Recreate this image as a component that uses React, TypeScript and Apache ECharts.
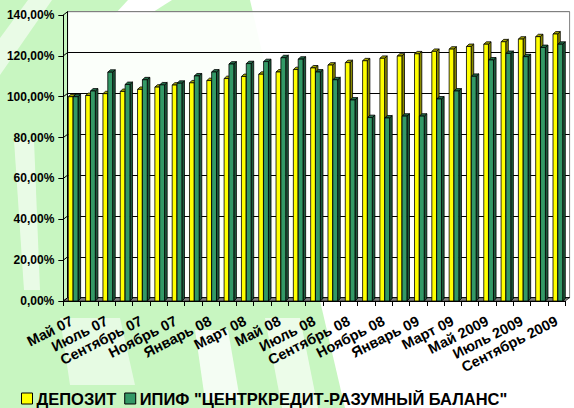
import React, { useEffect, useRef } from "react";
import * as echarts from "echarts";

const categories = [
  "Май 07", "Июнь 07", "Июль 07", "Август 07", "Сентябрь 07", "Октябрь 07",
  "Ноябрь 07", "Декабрь 07", "Январь 08", "Февраль 08", "Март 08", "Апрель 08",
  "Май 08", "Июнь 08", "Июль 08", "Август 08", "Сентябрь 08", "Октябрь 08",
  "Ноябрь 08", "Декабрь 08", "Январь 09", "Февраль 09", "Март 09", "Апрель 09",
  "Май 2009", "Июнь 2009", "Июль 2009", "Август 2009", "Сентябрь 2009",
];

const deposit = [
  100.0, 100.6, 101.5, 102.6, 103.6, 104.7, 105.7, 106.8, 107.9, 108.9,
  109.9, 111.0, 112.1, 113.3, 114.1, 115.5, 116.7, 117.6, 118.8, 119.9,
  121.0, 122.2, 123.3, 124.6, 125.7, 126.9, 128.2, 129.4, 130.7,
];

const ipif = [
  100.0, 102.8, 112.0, 106.0, 108.3, 105.8, 106.6, 110.2, 112.1, 116.0,
  116.2, 117.2, 119.1, 118.4, 112.1, 108.3, 98.4, 89.8, 89.6, 90.5,
  90.5, 98.9, 102.8, 110.0, 118.0, 121.2, 119.6, 124.1, 125.7,
];

const yTicks = [0, 20, 40, 60, 80, 100, 120, 140];

const seriesNames = ["ДЕПОЗИТ", 'ИПИФ "ЦЕНТРКРЕДИТ-РАЗУМНЫЙ БАЛАНС"'];

const FONT = "Arial, 'Liberation Sans', sans-serif";
const DX = 4.3; // depth offset of back wall
const DY = 3.3;
const BDX = 2.6; // bar depth
const BDY = 2.4;

function barRenderer(offsetFrac: number, widthFrac: number, front: string, side: string, top: string) {
  return (params: any, api: any) => {
    const idx = api.value(0);
    const val = api.value(1);
    const base = api.coord([idx, 0]);
    const tp = api.coord([idx, val]);
    const band = api.size([1, 0])[0];
    const l = base[0] - band / 2 + offsetFrac * band;
    const w = widthFrac * band;
    const b = base[1];
    const t = tp[1];
    const stroke = { stroke: "#000", lineWidth: 0.8 };
    return {
      type: "group",
      children: [
        {
          type: "polygon",
          shape: { points: [[l + w, t], [l + w + BDX, t - BDY], [l + w + BDX, b - BDY], [l + w, b]] },
          style: { fill: side, ...stroke },
        },
        {
          type: "polygon",
          shape: { points: [[l, t], [l + w, t], [l + w + BDX, t - BDY], [l + BDX, t - BDY]] },
          style: { fill: top, ...stroke },
        },
        {
          type: "rect",
          shape: { x: l, y: t, width: w, height: b - t },
          style: { fill: front, ...stroke },
        },
      ],
    };
  };
}

export default function App() {
  const ref = useRef<HTMLDivElement>(null);
  useEffect(() => {
    if (!ref.current) return;
    const chart = echarts.init(ref.current, null, { renderer: "svg" });
    const G = "#c8f6c1";
    const option: any = {
      animation: false,
      backgroundColor: "#ffffff",
      graphic: [
        { type: "polygon", z: -20, shape: { points: [[0, 0], [250, 0], [345, 408], [0, 408]] }, style: { fill: G } },
        { type: "polygon", z: -19, shape: { points: [[0, 38], [28, 0], [52, 0], [0, 75]] }, style: { fill: "rgba(255,255,255,0.6)" } },
        { type: "polygon", z: -19, shape: { points: [[14, 140], [34, 140], [40, 290], [24, 290]] }, style: { fill: "rgba(255,255,255,0.6)" } },
        { type: "polygon", z: -19, shape: { points: [[128, 0], [172, 0], [150, 14], [115, 14]] }, style: { fill: "#ffffff" } },
        { type: "polygon", z: -19, shape: { points: [[60, 318], [120, 318], [135, 385], [70, 385]] }, style: { fill: "rgba(255,255,255,0.55)" } },
        { type: "polygon", z: -19, shape: { points: [[195, 330], [228, 330], [240, 400], [205, 400]] }, style: { fill: "rgba(255,255,255,0.8)" } },
        { type: "polygon", z: -19, shape: { points: [[265, 318], [300, 318], [318, 408], [282, 408]] }, style: { fill: "rgba(255,255,255,0.65)" } },
      ],
      legend: {
        left: 16,
        top: 385,
        itemWidth: 11,
        itemHeight: 11,
        itemGap: 8,
        icon: "rect",
        data: seriesNames,
        itemStyle: { borderColor: "#000", borderWidth: 1 },
        textStyle: { fontFamily: FONT, fontWeight: "bold", fontSize: 16.5, color: "#000", padding: [0, 0, 0, -1], lineHeight: 16 },
      },
      grid: [
        {
          left: 63.3, right: 574 - 565.3, top: 15, bottom: 408 - 301,
          show: false,
        },
        {
          left: 63.3 + DX, right: 574 - 565.3 - DX, top: 15 - DY, bottom: 408 - 301 + DY,
          show: true, borderColor: "#808080", borderWidth: 1, backgroundColor: "rgba(255,255,255,0.92)",
        },
      ],
      xAxis: [
        {
          type: "category", gridIndex: 0, data: categories, boundaryGap: true,
          axisLine: { show: true, lineStyle: { color: "#000", width: 1 } },
          axisTick: { show: true, interval: 0, length: 5, lineStyle: { color: "#000" } },
          axisLabel: {
            interval: 1, rotate: 27, margin: 19,
            fontFamily: FONT, fontWeight: "bold", fontSize: 14.5, color: "#000",
          },
          z: 5,
        },
        {
          type: "category", gridIndex: 1, data: categories, show: false,
        },
      ],
      yAxis: [
        {
          type: "value", gridIndex: 0, min: 0, max: 140, interval: 20,
          splitLine: { show: false },
          axisLine: { show: true, lineStyle: { color: "#000", width: 1 } },
          axisTick: { show: true, length: 5, lineStyle: { color: "#000" } },
          axisLabel: {
            margin: 9, fontFamily: FONT, fontWeight: "bold", fontSize: 12, color: "#000",
            formatter: (v: number) => v.toFixed(2).replace(".", ",") + "%",
          },
          z: 5,
        },
        {
          type: "value", gridIndex: 1, min: 0, max: 140, interval: 20,
          axisLabel: { show: false }, axisTick: { show: false },
          axisLine: { show: true, lineStyle: { color: "#000", width: 1 } },
          splitLine: {
            show: true,
            lineStyle: { color: ["#000", "#000", "#000", "#000", "#000", "#000", "#000", "#808080"], width: 1 },
          },
        },
      ],
      series: [
        {
          type: "custom", name: "floor", xAxisIndex: 0, yAxisIndex: 0, silent: true, z: 1,
          data: [[0, 0]],
          renderItem: (params: any, api: any) => {
            const p = api.coord([0, 0]);
            const band = api.size([1, 0])[0];
            const l = p[0] - band / 2;
            const r = l + band * categories.length;
            const y = p[1];
            return {
              type: "polygon",
              shape: { points: [[l, y], [r, y], [r + DX, y - DY], [l + DX, y - DY]] },
              style: { fill: "#808080", stroke: "#000", lineWidth: 0.6 },
            };
          },
        },
        {
          type: "custom", name: "connectors", xAxisIndex: 0, yAxisIndex: 0, silent: true, z: 1,
          data: yTicks.map((v) => [0, v]),
          renderItem: (params: any, api: any) => {
            const p = api.coord([0, api.value(1)]);
            const band = api.size([1, 0])[0];
            const l = p[0] - band / 2;
            return {
              type: "line",
              shape: { x1: l, y1: p[1], x2: l + DX, y2: p[1] - DY },
              style: { stroke: "#000", lineWidth: 1 },
            };
          },
        },
        {
          type: "custom", name: seriesNames[0], xAxisIndex: 0, yAxisIndex: 0, z: 3,
          itemStyle: { color: "#ffff00" },
          data: deposit.map((v, i) => [i, v]),
          renderItem: barRenderer(0.29, 0.27, "#ffff00", "#8a8a00", "#a8a800"),
        },
        {
          type: "custom", name: seriesNames[1], xAxisIndex: 0, yAxisIndex: 0, z: 4,
          itemStyle: { color: "#339966" },
          data: ipif.map((v, i) => [i, v]),
          renderItem: barRenderer(0.57, 0.28, "#339966", "#1d5a3b", "#23704a"),
        },
      ],
    };
    chart.setOption(option);
    return () => chart.dispose();
  }, []);
  return <div ref={ref} style={{ width: 574, height: 408, position: "fixed", left: 0, top: 0 }} />;
}
